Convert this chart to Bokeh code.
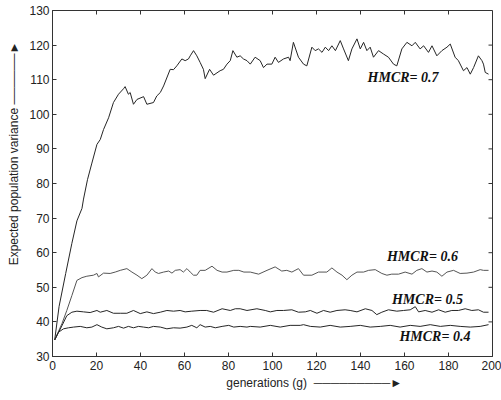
import math
from bokeh.plotting import figure
from bokeh.models import Range1d, FixedTicker, Label
from bokeh.embed import file_html
from bokeh.resources import INLINE

# ---- data ----
g07 = [1, 3, 6, 8.8, 11.1, 13.4, 14.1, 15.9, 17.9, 20.2, 21.7, 23.2, 25.5, 27.7, 30, 32.3, 33, 34.5, 35.3, 36.8,
       38.4, 41.4, 42.9, 45.9, 47.4, 49, 50.5, 53.5, 55, 56.5, 58.8, 60.3, 61.8, 62.6, 64.1, 65.6, 67.1, 68.6,
       69.4, 71.4, 73.2, 76.2, 77.7, 79.3, 80.8, 82, 83.8, 85.3, 86.8, 88.4, 89.9, 92.1, 94.4, 95.9, 97.5, 99.7,
       101.2, 102.7, 105, 107.3, 108, 109.5, 111.8, 114.1, 115.6, 117.9, 119.4, 120.9, 122.5, 124, 125.5, 127,
       128.6, 130.8, 132.3, 134.5, 136.1, 138.4, 139.9, 141.4, 142.9, 144.4, 145.9, 148.2, 150.5, 152.7, 155,
       156.5, 158.8, 161.1, 163.4, 164.9, 167.1, 168.7, 170.9, 172.5, 174.7, 177, 179.3, 180.8, 183, 184.5,
       186.8, 188.4, 189.9, 191.4, 193.6, 195.2, 195.9, 196.7, 198.2]
v07 = [34.8, 44.5, 54.0, 62.7, 69.2, 72.8, 75.5, 81.1, 85.9, 91.3, 92.7, 95.6, 99.0, 103.4, 105.8, 107.4, 108.0,
       105.8, 106.3, 102.9, 104.3, 105.1, 102.9, 103.4, 105.3, 106.3, 108.2, 113.0, 112.9, 114.0, 116.0, 115.5,
       116.0, 116.9, 118.4, 116.9, 115.0, 113.0, 110.3, 113.0, 111.3, 112.6, 113.0, 114.5, 115.5, 118.4, 116.5,
       116.9, 116.0, 115.5, 114.5, 116.5, 115.5, 113.5, 114.5, 114.5, 116.5, 115.0, 116.0, 116.5, 115.5, 120.8,
       116.5, 114.5, 114.0, 119.4, 118.4, 118.9, 117.9, 119.4, 118.4, 119.8, 118.4, 121.3, 118.9, 115.5, 118.9,
       121.8, 118.9, 120.8, 118.4, 119.4, 116.5, 118.4, 117.4, 116.5, 114.5, 114.0, 118.9, 120.8, 119.8, 120.8,
       118.9, 119.8, 117.9, 119.8, 116.9, 118.4, 119.4, 120.3, 116.5, 115.5, 112.6, 113.5, 111.6, 113.5, 116.9,
       115.5, 114.5, 112.1, 111.6]

g06 = [1, 4.3, 6.5, 8.8, 11.1, 13.4, 15.6, 18.6, 20.2, 20.9, 23.2, 26.2, 28.5, 30.8, 33.8, 36.1, 38.4, 40.6,
       42.9, 45.2, 46.7, 48.2, 50.5, 52.8, 54.3, 55.8, 58, 59.5, 61.1, 62.6, 64.1, 65.6, 67.1, 69.4, 72.5, 74.8,
       77.1, 79.3, 82.4, 84.7, 87, 89.9, 93.7, 97.5, 101.2, 104.2, 106.5, 108.8, 111.8, 114.1, 117.9, 120.9,
       124.7, 127, 129.3, 131.6, 133.8, 136.1, 138.4, 141.4, 143.7, 146.7, 149.7, 152, 154.2, 157.3, 160.3,
       163.4, 165.6, 167.9, 170.2, 172.5, 174.7, 177, 179.3, 182.3, 185.3, 188.4, 191.4, 194.4, 195.9, 198.2]
v06 = [34.8, 39.5, 43.3, 47.6, 52.0, 52.8, 53.2, 53.5, 54.0, 53.0, 54.1, 54.0, 54.4, 54.9, 55.4, 54.4, 53.5, 52.5,
       53.5, 55.4, 54.4, 54.0, 54.4, 54.7, 54.1, 54.9, 55.1, 54.4, 55.4, 54.4, 53.5, 53.5, 54.9, 54.9, 56.1, 54.9,
       54.4, 54.4, 54.9, 54.9, 54.4, 54.4, 53.8, 54.9, 55.9, 54.7, 54.9, 54.4, 55.4, 53.5, 53.5, 54.4, 54.4, 55.6,
       54.4, 53.5, 52.2, 53.5, 54.4, 54.4, 54.9, 55.1, 54.0, 53.5, 53.8, 53.8, 54.4, 53.8, 54.9, 55.4, 54.4, 54.7,
       54.4, 53.2, 54.4, 54.9, 54.0, 54.1, 54.4, 55.1, 54.9, 54.9]

g05 = [1, 4.3, 6.5, 8.8, 11.1, 14.1, 17.1, 20.2, 21.7, 24.7, 27.7, 30.8, 33.8, 36.8, 39.9, 42.9, 45.9, 49, 52,
       55, 58, 60.3, 63.3, 67.1, 70.1, 73.2, 77.1, 80.8, 83.1, 85.3, 88.4, 92.9, 96.7, 99, 102, 105, 108.8,
       111.8, 114.9, 117.2, 120.2, 123.2, 126.2, 129.3, 133, 135.3, 138.4, 142.2, 145.2, 147.4, 149.7, 152.7,
       156.5, 159.6, 162.6, 164.9, 166.4, 169.4, 172.5, 175.5, 178.5, 181.5, 184.5, 187.6, 190.6, 193.6, 195.9,
       198.2]
v05 = [34.8, 38.9, 41.8, 42.8, 43.1, 42.9, 42.7, 43.3, 42.8, 43.3, 42.5, 42.5, 42.5, 43.3, 42.4, 42.9, 42.4, 42.8,
       43.3, 43.1, 43.3, 42.9, 43.1, 43.3, 43.3, 42.8, 43.8, 43.3, 43.8, 43.8, 43.3, 43.8, 43.3, 42.9, 43.3, 43.3,
       43.5, 42.8, 42.9, 43.3, 42.5, 43.3, 42.8, 43.3, 43.5, 43.3, 42.9, 43.8, 43.3, 42.1, 42.8, 43.5, 43.1, 43.3,
       43.5, 44.4, 42.9, 43.3, 42.8, 43.5, 42.8, 43.3, 43.3, 43.8, 43.3, 43.5, 42.8, 42.8]

g04 = [1, 2.7, 5, 7.3, 9.6, 12.6, 15.6, 17.9, 20.2, 22.4, 24.7, 27.7, 30, 32.3, 34.5, 36.8, 39.1, 41.4, 43.7,
       45.9, 49, 52, 55, 58, 61.1, 63.3, 65.6, 67.1, 69.4, 71.7, 74, 77.1, 80.1, 82.4, 85.3, 88.4, 89.9, 94.4,
       99, 103.5, 108, 112.6, 114.1, 117.2, 121.7, 126.2, 130.8, 135.3, 139.9, 144.4, 149, 153.5, 158, 162.6,
       167.1, 171.7, 176.3, 180.8, 185.3, 189.9, 194.4, 198.2]
v04 = [34.8, 37.0, 38.0, 38.3, 38.5, 38.7, 38.3, 38.5, 39.2, 38.5, 38.0, 38.3, 38.7, 38.2, 38.7, 38.3, 38.7, 38.5,
       38.3, 38.7, 38.5, 38.0, 38.3, 38.2, 38.5, 39.0, 38.3, 39.2, 38.5, 38.7, 38.3, 38.7, 39.0, 38.5, 38.7, 38.5,
       38.7, 38.5, 39.0, 38.5, 39.0, 39.0, 39.2, 38.7, 38.5, 39.0, 38.5, 38.7, 39.0, 38.5, 38.7, 39.0, 38.5, 39.0,
       38.7, 39.2, 38.7, 39.0, 38.7, 38.5, 38.7, 39.2]

series_labels = ["HMCR= 0.7", "HMCR= 0.6", "HMCR= 0.5", "HMCR= 0.4"]
label_x = [143.2, 152.0, 154.3, 157.7]
label_y = [110.5, 59.0, 46.4, 35.7]

x_ticks = [0, 20, 40, 60, 80, 100, 120, 140, 160, 180, 200]
y_ticks = [30, 40, 50, 60, 70, 80, 90, 100, 110, 120, 130]
X_MAX = 200
Y_MAX = 130

x_title = "generations (g)"
y_title = "Expected population variance"

FONT = "Liberation Sans"
AX = "#333333"
NB = "\u00a0"
SHAFT = "\u2500"
HEAD = "\u25ba"

p = figure(width=501, height=400, output_backend="svg", toolbar_location=None,
           x_range=Range1d(0, 200), y_range=Range1d(30, 130),
           min_border_left=52, min_border_right=9, min_border_top=10, min_border_bottom=44)
p.xgrid.visible = False
p.ygrid.visible = False
p.outline_line_color = AX
p.outline_line_width = 1
p.background_fill_color = "white"
p.border_fill_color = "white"

for ax, ticks in ((p.xaxis[0], x_ticks), (p.yaxis[0], y_ticks)):
    ax.ticker = FixedTicker(ticks=ticks)
    ax.major_tick_in = 4
    ax.major_tick_out = 0
    ax.minor_tick_line_color = None
    ax.axis_line_color = AX
    ax.major_tick_line_color = AX
    ax.major_label_text_font = FONT
    ax.major_label_text_font_size = "12px"
    ax.major_label_text_color = "#222222"
    ax.axis_label_text_font = FONT
    ax.axis_label_text_font_size = "12px"
    ax.axis_label_text_font_style = "normal"
    ax.axis_label_text_color = "#222222"

# axis titles followed by direction arrows (leading no-break spaces keep the words centred)
p.xaxis[0].axis_label = NB * 25 + x_title + NB * 2 + SHAFT * 9 + HEAD
p.yaxis[0].axis_label = NB * 18 + y_title + NB + SHAFT * 6 + HEAD
p.xaxis[0].major_label_standoff = 4
p.yaxis[0].major_label_standoff = 3
p.xaxis[0].axis_label_standoff = 3
p.yaxis[0].axis_label_standoff = 5

# mirrored inward tick marks on the top and right frame edges
p.ray(x=x_ticks, y=[Y_MAX] * len(x_ticks), length=4, length_units="screen",
      angle=-math.pi / 2, line_color=AX, line_width=1)
p.ray(x=[X_MAX] * len(y_ticks), y=y_ticks, length=4, length_units="screen",
      angle=math.pi, line_color=AX, line_width=1)

p.line(g07, v07, line_color="#262626", line_width=1)
p.line(g06, v06, line_color="#555555", line_width=1)
p.line(g05, v05, line_color="#262626", line_width=1)
p.line(g04, v04, line_color="#262626", line_width=1)

for t, lx, ly in zip(series_labels, label_x, label_y):
    p.add_layout(Label(x=lx, y=ly, text=t, text_font="Liberation Serif", text_font_size="14px",
                       text_font_style="bold italic", text_color="#111111",
                       text_baseline="middle", text_align="left"))

open("out.html", "w").write(file_html(p, INLINE))
